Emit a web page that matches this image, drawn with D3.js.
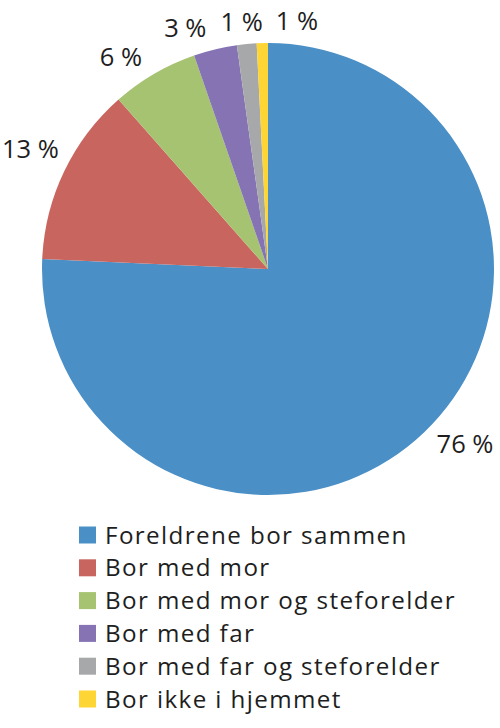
<!DOCTYPE html>
<html><head><meta charset="utf-8">
<script src="https://cdn.jsdelivr.net/npm/d3@7/dist/d3.min.js"></script>
<style>body{margin:0;background:#fff}svg{display:block}</style>
</head><body>
<svg id="c" width="500" height="728"></svg>
<script>
const categories = ["Foreldrene bor sammen","Bor med mor","Bor med mor og steforelder","Bor med far","Bor med far og steforelder","Bor ikke i hjemmet"];
const values = [75.7, 12.8, 6.2, 3.1, 1.4, 0.8];
const labels = ["76 %","13 %","6 %","3 %","1 %","1 %"];
const colors = ["#4a8fc6","#c9655f","#a6c371","#8573b4","#a6a8aa","#fdd535"];

const svg = d3.select("#c");
const cx = 268, cy = 269, r = 226;
const font = "'Open Sans', sans-serif", fs = 25.5, legFs = 24.2, legLs = 1.4, txt = "#1e1e1e";

const pie = d3.pie().sort(null).value(d => d)(values);
const arc = d3.arc().innerRadius(0).outerRadius(r);
const g = svg.append("g").attr("transform", `translate(${cx},${cy})`);
g.selectAll("path").data(pie).join("path")
  .attr("d", arc).attr("fill", (d, i) => colors[i]);

// outside-end labels: nearest corner of label box on a ring just outside the pie
const R = 238, capH = fs * 0.714;
const placed = [];
pie.forEach((d, i) => {
  const a = (d.startAngle + d.endAngle) / 2;
  const s = Math.sin(a), c = -Math.cos(a);
  const px = s * R, py = c * R;
  const t = g.append("text").text(labels[i])
    .attr("font-family", font).attr("font-size", fs).attr("fill", txt);
  const w = t.node().getComputedTextLength();
  let x0;
  if (Math.abs(s) < 0.2) x0 = px - w / 2 - 4; else x0 = s > 0 ? px + 4 : px - w - 6;
  const as = Math.abs(s);
  let base = c > 0 ? py + capH - 6 : py + (as > 0.8 ? -8 : as > 0.3 ? 3 : -1);
  const prev = placed[placed.length - 1];
  if (prev && Math.abs(prev.base - base) < capH && x0 < prev.x1 + 12 && x0 + w > prev.x0) x0 = prev.x1 + 13;
  x0 = Math.max(x0, 2 - cx);
  placed.push({x0, x1: x0 + w, base});
  t.attr("x", x0).attr("y", base);
});

// legend
const leg = svg.append("g");
const rowY = d3.scalePoint().domain(categories).range([535, 699]);
categories.forEach((name, i) => {
  const y = rowY(name);
  leg.append("rect").attr("x", 79).attr("y", y - 8.5).attr("width", 17).attr("height", 17).attr("fill", colors[i]);
  leg.append("text").attr("x", 105).attr("y", y + 8.5).text(name)
    .attr("font-family", font).attr("font-size", legFs).attr("letter-spacing", legLs).attr("fill", txt);
});
</script>
</body></html>
